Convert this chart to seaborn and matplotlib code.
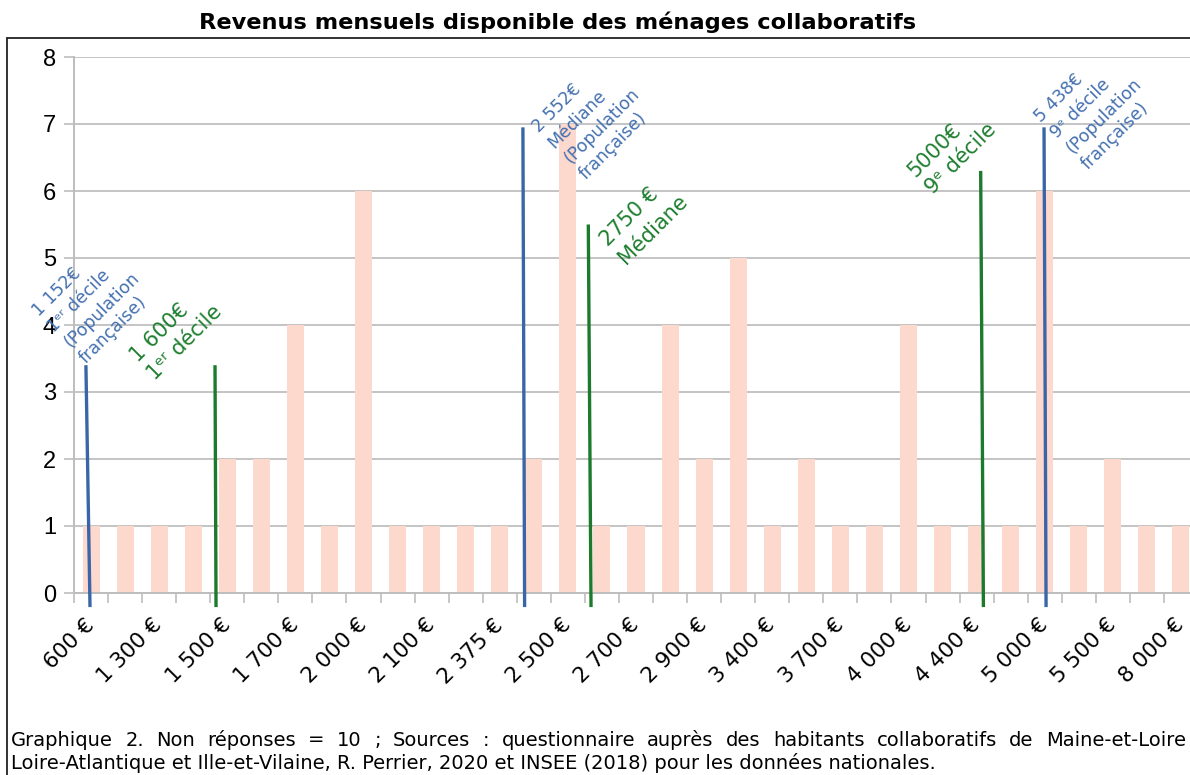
import numpy as np
import seaborn as sns
import matplotlib.pyplot as plt
from matplotlib.lines import Line2D

title = "Revenus mensuels disponible des ménages collaboratifs"

# nombre de ménages par tranche de revenu (33 barres, une étiquette sur deux)
counts = [1, 1, 1, 1, 2, 2, 4, 1, 6, 1, 1, 1, 1, 2, 7, 1, 1,
          4, 2, 5, 1, 2, 1, 1, 4, 1, 1, 1, 6, 1, 2, 1, 1]
shown_labels = [600, 1300, 1500, 1700, 2000, 2100, 2375, 2500, 2700,
                2900, 3400, 3700, 4000, 4400, 5000, 5500, 8000]

# repères (déciles / médianes) tracés à la main sur le graphique
marker_texts = ["1 152€\n1ᵉʳ décile\n(Population\nfrançaise)",
                "1 600€\n1ᵉʳ décile",
                "2 552€\nMédiane\n(Population\nfrançaise)",
                "2750 €\nMédiane",
                "5000€\n9ᵉ décile",
                "5 438€\n9ᵉ décile\n(Population\nfrançaise)"]
marker_source = ["insee", "enquete", "insee", "enquete", "enquete", "insee"]
marker_top = [-0.15, 3.64, 12.68, 14.60, 26.12, 27.98]
marker_bottom = [-0.03, 3.67, 12.73, 14.68, 26.20, 28.04]
marker_height = [3.4, 3.4, 6.95, 5.5, 6.3, 6.95]
# décalage (px) du début de la dernière ligne par rapport au haut du trait
text_offset = [(-3, 4), (-63, -12), (60, -50), (34, -37), (-51, -21), (41, -40)]

caption_lines = ["Graphique 2. Non réponses = 10 ; Sources : questionnaire auprès des "
                 "habitants collaboratifs de Maine-et-Loire",
                 "Loire-Atlantique et Ille-et-Vilaine, R. Perrier, 2020 et INSEE (2018) "
                 "pour les données nationales."]

line_colors = {"insee": "#3A66A8", "enquete": "#1B7A2B"}
text_colors = {"insee": "#4470B0", "enquete": "#1E7F30"}
text_sizes = {"insee": 12.5, "enquete": 15}

sns.set_theme(style="white")
plt.rcParams["font.family"] = ["DejaVu Sans"]
plt.rcParams["text.color"] = "black"
plt.rcParams["xtick.labelcolor"] = "black"
plt.rcParams["ytick.labelcolor"] = "black"

W, H = 1190, 775
fig = plt.figure(figsize=(W / 100, H / 100), dpi=100)
ax = fig.add_axes([74 / W, (H - 593) / H, 33 * 34.06 / W, (593 - 57) / H])

x = np.arange(len(counts))
sns.barplot(x=x, y=counts, color="#FDD8CC", saturation=1, width=0.5,
            linewidth=0, ax=ax, zorder=2)

ax.set_xlim(-0.5, len(counts) - 0.5)
ax.set_ylim(0, 8)
ax.set_yticks(range(0, 9))
ax.yaxis.grid(True, color="#C4C4C4", linewidth=1.4, zorder=0)
ax.set_axisbelow(True)
ax.tick_params(axis="y", length=7, width=1.2, color="#BDBDBD", pad=6,
               labelsize=17, left=True)
for t in ax.get_yticklabels():
    t.set_fontfamily("Liberation Sans")

ax.set_xticks(x[::2])
ax.set_xticklabels([f"{v:,}".replace(",", " ") + " €" for v in shown_labels])
ax.set_xticks(np.arange(len(counts) + 1) - 0.5, minor=True)
ax.tick_params(axis="x", which="major", length=0, pad=21, labelsize=15.5)
ax.tick_params(axis="x", which="minor", length=7.5, width=1.2, color="#BDBDBD",
               bottom=True)
for t in ax.get_xticklabels():
    t.set_rotation(45)
    t.set_ha("right")
    t.set_va("center")
    t.set_rotation_mode("anchor")

for s in ["top", "right"]:
    ax.spines[s].set_visible(False)
for s in ["left", "bottom"]:
    ax.spines[s].set_color("#BDBDBD")
    ax.spines[s].set_linewidth(1.4)
ax.set_xlabel("")
ax.set_ylabel("")

# lignes et textes des repères
for txt, src, x0, x1, h, off in zip(marker_texts, marker_source, marker_top,
                                    marker_bottom, marker_height, text_offset):
    ax.plot([x0, x1], [h, -0.21], color=line_colors[src], lw=2.4,
            clip_on=False, solid_capstyle="butt", zorder=4)
    ax.annotate(txt, xy=(x0, h), xytext=off, textcoords="offset pixels",
                rotation=45, rotation_mode="anchor", ha="left", va="baseline",
                color=text_colors[src], fontsize=text_sizes[src],
                linespacing=1.3, annotation_clip=False, zorder=5)

# titre et cadre
fig.text(558 / W, 1 - 22 / H, title, ha="center", va="center",
         fontsize=16.2, fontweight="bold")
fig.add_artist(Line2D([7 / W, 7 / W], [0, 1 - 38 / H], color="#222222", lw=1.3))
fig.add_artist(Line2D([7 / W, 1], [1 - 38 / H, 1 - 38 / H], color="#222222", lw=1.3))

# légende (1re ligne justifiée)
cap_size = 14
fig.canvas.draw()
renderer = fig.canvas.get_renderer()
words = caption_lines[0].split(" ")
objs = [fig.text(0, 1 - 740 / H, w, fontsize=cap_size, va="center", ha="left")
        for w in words]
widths = [o.get_window_extent(renderer).width for o in objs]
gap = (1186 - 11 - sum(widths)) / (len(words) - 1)
pos = 11
for o, w in zip(objs, widths):
    o.set_x(pos / W)
    pos += w + gap
fig.text(11 / W, 1 - 763 / H, caption_lines[1], fontsize=cap_size, va="center", ha="left")

fig.savefig("out.png", dpi=100)
